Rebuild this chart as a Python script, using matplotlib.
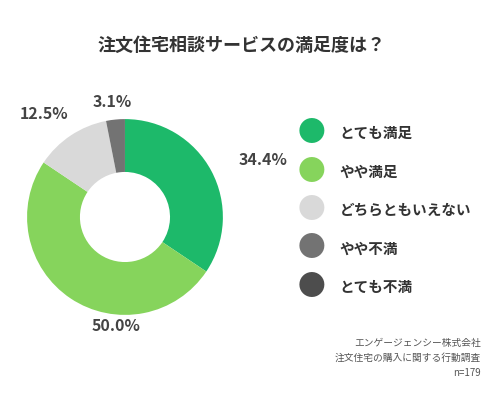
import matplotlib
matplotlib.use("Agg")
import matplotlib.pyplot as plt

plt.rcParams['font.family'] = ['Noto Sans CJK JP', 'DejaVu Sans']

labels = ['とても満足', 'やや満足', 'どちらともいえない', 'やや不満', 'とても不満']
values = [34.4, 50.0, 12.5, 3.1, 0.0]
colors = ['#1db96a', '#86d45c', '#d9d9d9', '#737373', '#4d4d4d']
# percentage label positions (figure fraction), one per non-zero slice
label_pos = [(0.535, 0.60), (0.235, 0.185), (0.09, 0.715), (0.228, 0.745)]

fig = plt.figure(figsize=(4.92, 4.0), dpi=100)
fig.patch.set_facecolor('white')

ax = fig.add_axes([0.055, 0.2125, 0.398, 0.49])
ax.pie(values, colors=colors, startangle=90, counterclock=False,
       wedgeprops=dict(width=0.54, edgecolor='white', linewidth=0))
ax.set_xlim(-1, 1)
ax.set_ylim(-1, 1)
ax.set_aspect('equal')

for (x, y), v in zip(label_pos, values):
    fig.text(x, y, f'{v:.1f}%', ha='center', va='center', fontsize=11.5,
             fontweight='bold', color='#444444')

fig.text(0.49, 0.887, '注文住宅相談サービスの満足度は？', ha='center', va='center',
         fontsize=13, fontweight='bold', color='#333333')

for i, (lab, c) in enumerate(zip(labels, colors)):
    y = 1 - (133 + i * 38.5) / 400
    fig.text(0.634, y, '●', ha='center', va='center', fontsize=20, color=c)
    fig.text(0.69, y, lab, ha='left', va='center', fontsize=10.5,
             fontweight='bold', color='#333333')

for i, line in enumerate(['エンゲージェンシー株式会社', '注文住宅の購入に関する行動調査', 'n=179']):
    fig.text(0.978, 1 - (343 + i * 15) / 400, line, ha='right', va='center',
             fontsize=7, color='#555555')

fig.savefig('out.png', dpi=100)
